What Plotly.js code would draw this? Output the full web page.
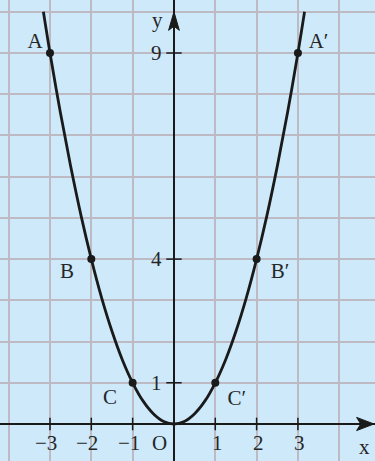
<!DOCTYPE html>
<html>
<head>
<meta charset="utf-8">
<script src="https://cdn.plot.ly/plotly-3.0.1.min.js"></script>
<style>
  html, body { margin: 0; padding: 0; background: #cde9fa; overflow: hidden; }
  #chart { width: 375px; height: 461px; }
</style>
</head>
<body>
<div id="chart"></div>
<script>
// parabola y = x^2
const curveX = [-3.16, -3, -2.75, -2.5, -2.25, -2, -1.75, -1.5, -1.25, -1, -0.75, -0.5, -0.25, 0,
                0.25, 0.5, 0.75, 1, 1.25, 1.5, 1.75, 2, 2.25, 2.5, 2.75, 3, 3.16]
const curveY = [10, 9, 7.56, 6.25, 5.06, 4, 3.06, 2.25, 1.56, 1, 0.56, 0.25, 0.06, 0,
                0.06, 0.25, 0.56, 1, 1.56, 2.25, 3.06, 4, 5.06, 6.25, 7.56, 9, 10]

// marked points
const pointNames = ['A', 'B', 'C', 'A′', 'B′', 'C′']
const pointX = [-3, -2, -1, 3, 2, 1]
const pointY = [9, 4, 1, 9, 4, 1]
// where each point's name sits
const nameX = [-3.36, -2.59, -1.55, 3.5, 2.57, 1.52]
const nameY = [9.24, 3.66, 0.61, 9.24, 3.66, 0.58]

// axis ticks
const xTicks = [-3, -2, -1, 1, 2, 3]
const xTickText = ['−3', '−2', '−1', '1', '2', '3']
const yTicks = [1, 4, 9]
const yTickText = ['1', '4', '9']

const font = { family: 'Liberation Serif, Times New Roman, serif', size: 21, color: '#262626' }
const ink = '#1a1a1a'

const traces = [
    {
        x: curveX, y: curveY,
        mode: 'lines',
        line: { color: ink, width: 2.8, shape: 'spline', smoothing: 1 },
        hoverinfo: 'skip'
    },
    {
        x: xTicks, y: xTicks.map(() => 0),
        mode: 'markers',
        marker: { symbol: 'line-ns', size: 9, line: { color: ink, width: 1.5 } },
        hoverinfo: 'skip'
    },
    {
        x: yTicks.map(() => 0), y: yTicks,
        mode: 'markers',
        marker: { symbol: 'line-ew', size: 11, line: { color: ink, width: 1.5 } },
        hoverinfo: 'skip'
    },
    {
        x: pointX, y: pointY,
        mode: 'markers',
        marker: { color: ink, size: 8 },
        hoverinfo: 'skip'
    },
    {
        x: nameX, y: nameY, text: pointNames,
        mode: 'text',
        textfont: font,
        hoverinfo: 'skip'
    }
]

const annotations = []
xTicks.forEach((v, i) => {
    annotations.push({
        x: v, y: -0.46, text: xTickText[i], showarrow: false, font: font,
        xanchor: 'center', yanchor: 'middle', xshift: v < 0 ? -4 : 2
    })
})
yTicks.forEach((v, i) => {
    annotations.push({
        x: 0, y: v, text: yTickText[i], showarrow: false, font: font,
        xanchor: 'right', yanchor: 'middle', xshift: -10
    })
})
annotations.push({ x: -0.34, y: -0.46, text: 'O', showarrow: false, font: font, yanchor: 'middle' })
annotations.push({ x: -0.39, y: 9.8, text: 'y', showarrow: false, font: font, yanchor: 'middle' })
annotations.push({ x: 4.6, y: -0.57, text: 'x', showarrow: false, font: font, xanchor: 'center', yanchor: 'middle' })

// arrow heads at the ends of the axes, drawn as small filled paths (paper coords)
const xr = [-4.21, 4.865]
const yr = [-0.898, 10.286]
const px = v => (v - xr[0]) / (xr[1] - xr[0])
const py = v => (v - yr[0]) / (yr[1] - yr[0])

const layout = {
    width: 375,
    height: 461,
    margin: { l: 0, r: 0, t: 0, b: 0 },
    paper_bgcolor: '#cde9fa',
    plot_bgcolor: '#cde9fa',
    showlegend: false,
    xaxis: {
        range: xr, dtick: 1, tick0: 0,
        showgrid: true, gridcolor: '#bdbac4', gridwidth: 2,
        zeroline: true, zerolinecolor: ink, zerolinewidth: 2,
        showticklabels: false, ticks: '', fixedrange: true
    },
    yaxis: {
        range: yr, dtick: 1, tick0: 0,
        showgrid: true, gridcolor: '#bdbac4', gridwidth: 2,
        zeroline: true, zerolinecolor: ink, zerolinewidth: 2,
        showticklabels: false, ticks: '', fixedrange: true
    },
    shapes: [
        {
            type: 'path', xref: 'paper', yref: 'paper', layer: 'above',
            path: 'M ' + px(4.84) + ',' + py(0) + ' L ' + px(4.42) + ',' + py(0.16) +
                  ' L ' + px(4.52) + ',' + py(0) + ' L ' + px(4.42) + ',' + py(-0.16) + ' Z',
            fillcolor: ink, line: { color: ink, width: 1 }
        },
        {
            type: 'path', xref: 'paper', yref: 'paper', layer: 'above',
            path: 'M ' + px(0) + ',' + py(10.0) + ' L ' + px(-0.13) + ',' + py(9.55) +
                  ' L ' + px(0) + ',' + py(9.65) + ' L ' + px(0.13) + ',' + py(9.55) + ' Z',
            fillcolor: ink, line: { color: ink, width: 1 }
        }
    ],
    annotations: annotations
}

Plotly.newPlot('chart', traces, layout, { displayModeBar: false, staticPlot: true })
</script>
</body>
</html>
